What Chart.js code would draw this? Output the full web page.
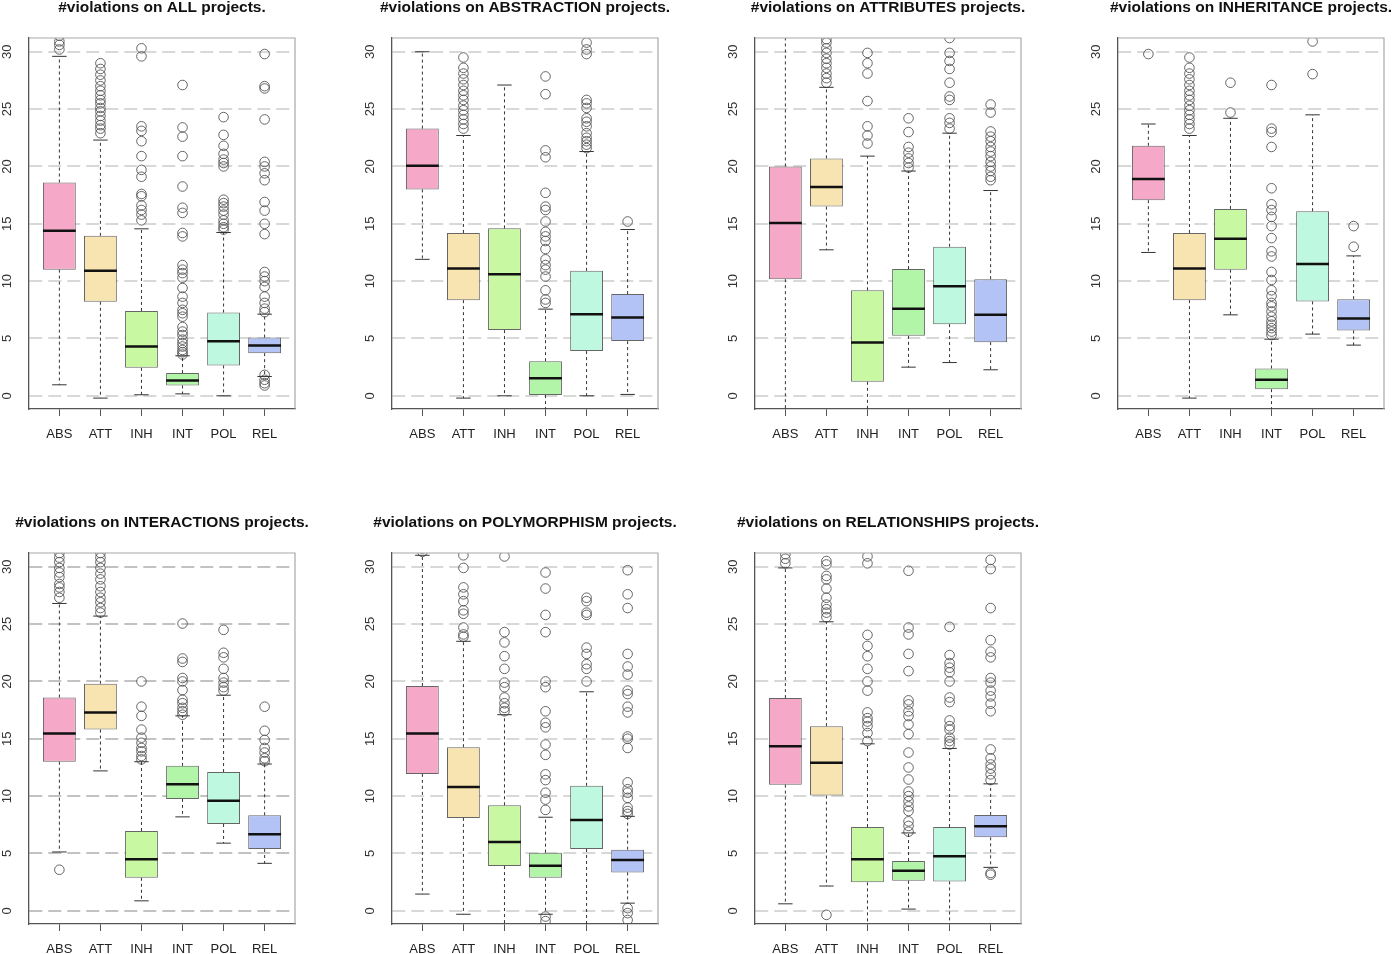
<!DOCTYPE html>
<html lang="en">
<head>
<meta charset="UTF-8">
<title>#violations per project type</title>
<script src="https://cdn.jsdelivr.net/npm/chart.js"></script>
<style>
  html, body { margin: 0; padding: 0; background: #ffffff; overflow: hidden; }
  body { width: 1396px; height: 954px; position: relative; }
  canvas { position: absolute; }
</style>
</head>
<body>
<script>
// categories and tick labels
const CATS = ['ABS', 'ATT', 'INH', 'INT', 'POL', 'REL'];
const Y_TICKS = [0, 5, 10, 15, 20, 25, 30];
const TITLES = [
  '#violations on ALL projects.',
  '#violations on ABSTRACTION projects.',
  '#violations on ATTRIBUTES projects.',
  '#violations on INHERITANCE projects.',
  '#violations on INTERACTIONS projects.',
  '#violations on POLYMORPHISM projects.',
  '#violations on RELATIONSHIPS projects.'
];

// box statistics, one row per panel (same order as TITLES), one value per category
const LOWER = [
  [0.96, -0.2, 0.09, 0.17, 0.0, 1.68],
  [11.9, -0.2, 0.0, -1.5, 0.0, 0.12],
  [-1.5, 12.73, -1.5, 2.5, 2.9, 2.27],
  [12.5, -0.2, 7.06, -1.5, 5.38, 4.42],
  [5.13, 12.2, 0.87, 8.19, 5.9, 4.14],
  [1.46, -0.3, -1.5, -0.3, -1.5, 0.67],
  [0.61, 2.16, -1.5, 0.15, -1.5, 3.79]
];
const Q1 = [
  [11.0, 8.2, 2.44, 0.9, 2.65, 3.72],
  [18.0, 8.34, 5.73, 0.06, 3.9, 4.77],
  [10.17, 16.5, 1.22, 5.23, 6.25, 4.68],
  [17.06, 8.34, 11.0, 0.58, 8.23, 5.7],
  [13.0, 15.8, 2.88, 9.76, 7.57, 5.39],
  [11.94, 8.1, 3.9, 2.88, 5.39, 3.35],
  [11.0, 10.05, 2.48, 2.62, 2.56, 6.41]
];
const MEDIAN = [
  [14.4, 10.9, 4.3, 1.33, 4.76, 4.39],
  [20.06, 11.1, 10.6, 1.54, 7.12, 6.83],
  [15.06, 18.2, 4.65, 7.59, 9.56, 7.06],
  [18.9, 11.1, 13.7, 1.4, 11.5, 6.74],
  [15.47, 17.3, 4.5, 11.04, 9.6, 6.67],
  [15.47, 10.8, 6.0, 3.93, 7.92, 4.43],
  [14.36, 12.9, 4.49, 3.5, 4.75, 7.37]
];
const Q3 = [
  [18.6, 13.95, 7.4, 1.98, 7.26, 5.08],
  [23.3, 14.2, 14.6, 3.02, 10.9, 8.87],
  [20.0, 20.7, 9.2, 11.05, 13.0, 10.17],
  [21.8, 14.2, 16.3, 2.38, 16.1, 8.43],
  [18.6, 19.8, 6.96, 12.64, 12.1, 8.33],
  [19.6, 14.27, 9.2, 5.07, 10.9, 5.33],
  [18.55, 16.1, 7.3, 4.34, 7.3, 8.36]
];
const UPPER = [
  [29.6, 22.3, 14.56, 3.49, 14.24, 7.12],
  [30.0, 22.7, 27.1, 7.56, 21.3, 14.5],
  [32.0, 26.9, 20.9, 19.6, 22.9, 17.9],
  [23.7, 22.7, 24.2, 4.94, 24.5, 12.2],
  [26.8, 25.7, 13.0, 17.0, 18.8, 12.8],
  [31.0, 23.5, 17.1, 8.16, 19.1, 8.24],
  [29.9, 25.2, 14.56, 6.79, 14.16, 11.07]
];

// outliers per panel, one list per category
const OUT_ALL = [
  [30.2, 30.6, 30.9, 31.4],
  [22.9, 23.3, 23.6, 24.0, 24.4, 24.8, 25.1, 25.5, 25.8, 26.2, 26.6, 27.0, 27.5, 28.0, 28.5, 29.0],
  [30.3, 29.6, 23.5, 23.1, 22.2, 20.9, 19.7, 19.1, 17.6, 17.4, 16.6, 16.2, 15.8, 15.3],
  [27.1, 23.4, 22.6, 20.9, 18.25, 16.4, 15.95, 14.2, 13.9, 11.4, 11.0, 10.7, 10.3, 9.4, 8.65, 8.1, 7.5, 7.2, 6.9, 6.0, 5.6, 5.3, 4.9, 4.6, 4.3, 4.0, 3.8, 3.6],
  [24.3, 22.75, 21.8, 21.1, 20.6, 20.3, 20.0, 17.1, 16.8, 16.5, 16.15, 15.8, 15.3, 15.0, 14.7, 14.5],
  [29.8, 27.0, 26.8, 24.1, 20.4, 20.0, 19.4, 18.8, 16.9, 16.15, 15.0, 14.1, 10.8, 10.4, 10.0, 9.5, 8.65, 8.1, 7.6, 7.3, 1.83, 1.4, 1.1, 0.9]
];
const OUT_ABSTRACTION = [
  [],
  [23.3, 23.7, 24.1, 24.5, 24.9, 25.3, 25.8, 26.2, 26.6, 27.1, 27.6, 28.1, 28.6, 29.5],
  [],
  [27.85, 26.3, 21.4, 20.8, 17.7, 16.5, 16.2, 15.2, 14.3, 13.9, 13.5, 12.8, 11.9, 11.4, 11.0, 10.4, 9.2, 8.4, 8.1],
  [30.8, 30.2, 29.8, 25.8, 25.5, 25.1, 24.2, 23.9, 23.5, 22.9, 22.5, 22.2, 21.9, 21.6],
  [15.2]
];
const OUT_ATTRIBUTES = [
  [],
  [27.3, 27.7, 28.1, 28.6, 29.0, 29.4, 29.9, 30.3, 30.8, 31.1],
  [29.9, 29.0, 28.1, 25.7, 23.5, 22.7, 22.0],
  [24.2, 23.0, 21.7, 21.2, 20.7, 20.3, 19.9],
  [31.2, 29.9, 29.2, 28.5, 27.3, 26.1, 25.8, 24.2, 23.8, 23.3],
  [25.4, 24.7, 23.05, 22.6, 22.2, 21.7, 21.3, 20.9, 20.4, 20.0, 19.6, 19.1, 18.8]
];
const OUT_INHERITANCE = [
  [29.8],
  [23.3, 23.7, 24.1, 24.5, 24.9, 25.3, 25.8, 26.2, 26.6, 27.1, 27.6, 28.1, 28.6, 29.5],
  [24.7, 27.3],
  [27.1, 23.3, 23.0, 21.7, 18.1, 16.7, 16.2, 15.6, 14.8, 13.75, 12.6, 12.15, 10.8, 10.1, 9.2, 8.7, 8.1, 7.8, 7.35, 6.9, 6.5, 6.2, 5.9, 5.6, 5.3],
  [30.9, 28.05],
  [13.0, 14.8]
];
const OUT_INTERACTIONS = [
  [3.58, 27.3, 27.8, 28.2, 28.5, 29.1, 29.5, 29.9, 30.4, 30.8, 31.2],
  [26.0, 26.4, 26.9, 27.3, 27.8, 28.3, 28.9, 29.4, 29.9, 30.4, 30.8, 31.2],
  [20.0, 17.8, 17.0, 15.8, 15.1, 14.65, 14.2, 13.9, 13.5, 13.2],
  [25.05, 22.0, 21.7, 20.3, 20.0, 19.25, 18.4, 18.1, 17.7, 17.4, 17.1],
  [24.5, 22.5, 22.1, 21.1, 20.3, 19.9, 19.5, 19.2],
  [17.8, 15.7, 14.9, 14.2, 13.8, 13.3, 13.05]
];
const OUT_POLYMORPHISM = [
  [31.3, 31.6],
  [23.9, 24.1, 24.7, 25.9, 26.2, 27.0, 27.6, 28.2, 29.9, 31.0],
  [30.9, 24.3, 23.4, 22.2, 21.1, 19.9, 19.5, 18.6, 18.1, 17.7, 17.4],
  [-0.5, -0.9, 29.5, 28.1, 25.8, 24.3, 20.0, 19.5, 17.4, 16.4, 16.0, 14.5, 13.6, 11.9, 11.4, 10.3, 9.7, 8.8],
  [27.3, 27.0, 26.0, 25.8, 22.95, 22.4, 21.5, 21.1, 20.0],
  [0.23, -0.2, -0.8, 29.7, 27.6, 26.4, 22.4, 21.3, 20.6, 19.2, 18.9, 17.8, 17.3, 15.2, 15.0, 14.2, 11.2, 10.6, 10.3, 9.85, 9.0, 8.7, 8.45]
];
const OUT_RELATIONSHIPS = [
  [30.3, 30.7, 31.1],
  [-0.35, 25.6, 26.0, 26.3, 26.7, 27.3, 28.1, 28.9, 29.2, 30.2, 30.5],
  [30.9, 30.3, 24.06, 23.1, 22.2, 21.1, 20.0, 19.2, 17.3, 16.8, 16.5, 16.1, 15.5, 14.8],
  [29.65, 24.7, 24.1, 22.4, 20.9, 18.35, 18.0, 17.4, 16.98, 16.25, 15.4, 13.8, 12.5, 11.45, 10.4, 10.0, 9.55, 9.1, 8.7, 7.8, 7.4, 6.9],
  [24.76, 22.3, 21.6, 21.2, 20.8, 20.0, 18.6, 18.2, 16.6, 16.1, 15.8, 15.1, 14.8, 14.5],
  [30.6, 29.8, 26.4, 23.6, 22.6, 22.1, 20.3, 19.9, 19.2, 18.7, 18.06, 17.4, 14.07, 13.3, 12.76, 12.4, 11.9, 11.4, 3.3, 3.15]
];
const OUTLIERS = [OUT_ALL, OUT_ABSTRACTION, OUT_ATTRIBUTES, OUT_INHERITANCE,
                  OUT_INTERACTIONS, OUT_POLYMORPHISM, OUT_RELATIONSHIPS];

// styles and placement
const BOX_COLORS = ['#f5a8c8', '#f7e4b0', '#c9f8a2', '#b2f5a8', '#bff8e0', '#b3c3f5'];
const GRID_COLORS = ['#d6d9d6', '#d6d9d6', '#d6d9d6', '#d6d9d6', '#c2c2c2', '#d6d9d6', '#d6d9d6'];
const PANEL_POS = [[0, 0], [363, 0], [726, 0], [1089, 0], [0, 515], [363, 515], [726, 515]];
const FONT = "'Liberation Sans', Arial, sans-serif";

// whiskers, caps and medians drawn with the chart's own scales
const boxParts = {
    id: 'boxParts',
    afterDatasetsDraw(chart, args, opts) {
        const k = opts.panel;
        const {ctx, chartArea: a} = chart;
        const x = chart.scales.x, y = chart.scales.y;
        const bars = chart.getDatasetMeta(0).data;
        ctx.save();
        ctx.beginPath();
        ctx.rect(a.left, a.top, a.right - a.left, a.bottom - a.top);
        ctx.clip();
        CATS.forEach((c, i) => {
            const cx = x.getPixelForValue(i + 1);
            const w = bars[i].width;
            const yLo = y.getPixelForValue(LOWER[k][i]);
            const yQ1 = y.getPixelForValue(Q1[k][i]);
            const yMed = y.getPixelForValue(MEDIAN[k][i]);
            const yQ3 = y.getPixelForValue(Q3[k][i]);
            const yHi = y.getPixelForValue(UPPER[k][i]);
            ctx.strokeStyle = '#333';
            ctx.lineWidth = 1;
            ctx.setLineDash([3, 3]);
            ctx.beginPath();
            ctx.moveTo(cx, yQ3); ctx.lineTo(cx, yHi);
            ctx.moveTo(cx, yQ1); ctx.lineTo(cx, yLo);
            ctx.stroke();
            ctx.setLineDash([]);
            ctx.beginPath();
            ctx.moveTo(cx - w * 0.22, yHi); ctx.lineTo(cx + w * 0.22, yHi);
            ctx.moveTo(cx - w * 0.22, yLo); ctx.lineTo(cx + w * 0.22, yLo);
            ctx.stroke();
            ctx.strokeStyle = '#111';
            ctx.lineWidth = 2.5;
            ctx.beginPath();
            ctx.moveTo(cx - w / 2, yMed); ctx.lineTo(cx + w / 2, yMed);
            ctx.stroke();
        });
        ctx.restore();
    }
};

// light top and right frame lines
const frame = {
    id: 'frame',
    afterDraw(chart) {
        const {ctx, chartArea: a} = chart;
        ctx.save();
        ctx.strokeStyle = '#a8a8a8';
        ctx.lineWidth = 1.2;
        ctx.beginPath();
        ctx.moveTo(a.left, a.top); ctx.lineTo(a.right, a.top); ctx.lineTo(a.right, a.bottom);
        ctx.stroke();
        ctx.restore();
    }
};

TITLES.forEach((title, k) => {
    const cv = document.createElement('canvas');
    cv.width = 324;
    cv.height = 451;
    cv.style.left = PANEL_POS[k][0] + 'px';
    cv.style.top = PANEL_POS[k][1] + 'px';
    document.body.appendChild(cv);

    const points = [];
    OUTLIERS[k].forEach((list, i) => list.forEach(v => points.push({x: i + 1, y: v})));

    new Chart(cv.getContext('2d'), {
        type: 'bar',
        data: {
            datasets: [{
                type: 'bar',
                data: CATS.map((c, i) => ({x: i + 1, y: [Q1[k][i], Q3[k][i]]})),
                backgroundColor: BOX_COLORS,
                borderColor: '#666',
                borderWidth: 1,
                borderSkipped: false,
                categoryPercentage: 1,
                barPercentage: 0.8,
                clip: 0
            }, {
                type: 'scatter',
                data: points,
                pointRadius: 4.8,
                pointBorderWidth: 0.9,
                pointBorderColor: '#555',
                pointBackgroundColor: 'rgba(0,0,0,0)',
                showLine: false,
                clip: 0
            }]
        },
        options: {
            responsive: false,
            animation: false,
            events: [],
            layout: { padding: 0 },
            scales: {
                x: {
                    type: 'linear',
                    min: 0.26,
                    max: 6.74,
                    offset: false,
                    afterBuildTicks: s => { s.ticks = CATS.map((c, i) => ({value: i + 1})); },
                    afterFit: s => { s.height = 42; },
                    ticks: {
                        callback: v => CATS[Math.round(v) - 1],
                        autoSkip: false,
                        maxRotation: 0,
                        padding: 11,
                        color: '#222',
                        font: { family: FONT, size: 13 }
                    },
                    grid: { offset: false, drawOnChartArea: false, drawTicks: true, tickLength: 7, tickColor: '#555', tickWidth: 1 },
                    border: { display: true, color: '#555', width: 1.3 }
                },
                y: {
                    min: -1.15,
                    max: 31.2,
                    afterBuildTicks: s => { s.ticks = Y_TICKS.map(v => ({value: v})); },
                    afterFit: s => { s.width = 29; },
                    ticks: {
                        minRotation: 90,
                        maxRotation: 90,
                        crossAlign: 'center',
                        padding: 14,
                        color: '#333',
                        font: { family: FONT, size: 13 }
                    },
                    grid: { color: GRID_COLORS[k], lineWidth: 2, drawTicks: false },
                    border: { display: true, color: '#555', width: 1.3, dash: [13, 6] }
                },
                y2: {
                    position: 'right',
                    min: -1.15,
                    max: 31.2,
                    afterFit: s => { s.width = 29; },
                    ticks: { display: false },
                    grid: { display: false, drawTicks: false },
                    border: { display: false }
                }
            },
            plugins: {
                legend: { display: false },
                tooltip: { enabled: false },
                title: {
                    display: true,
                    text: title,
                    color: '#111',
                    font: { family: FONT, size: 15.5, weight: 'bold', lineHeight: 1 },
                    padding: { top: 0, bottom: 22.5 }
                },
                boxParts: { panel: k }
            }
        },
        plugins: [boxParts, frame]
    });
});
</script>
</body>
</html>
